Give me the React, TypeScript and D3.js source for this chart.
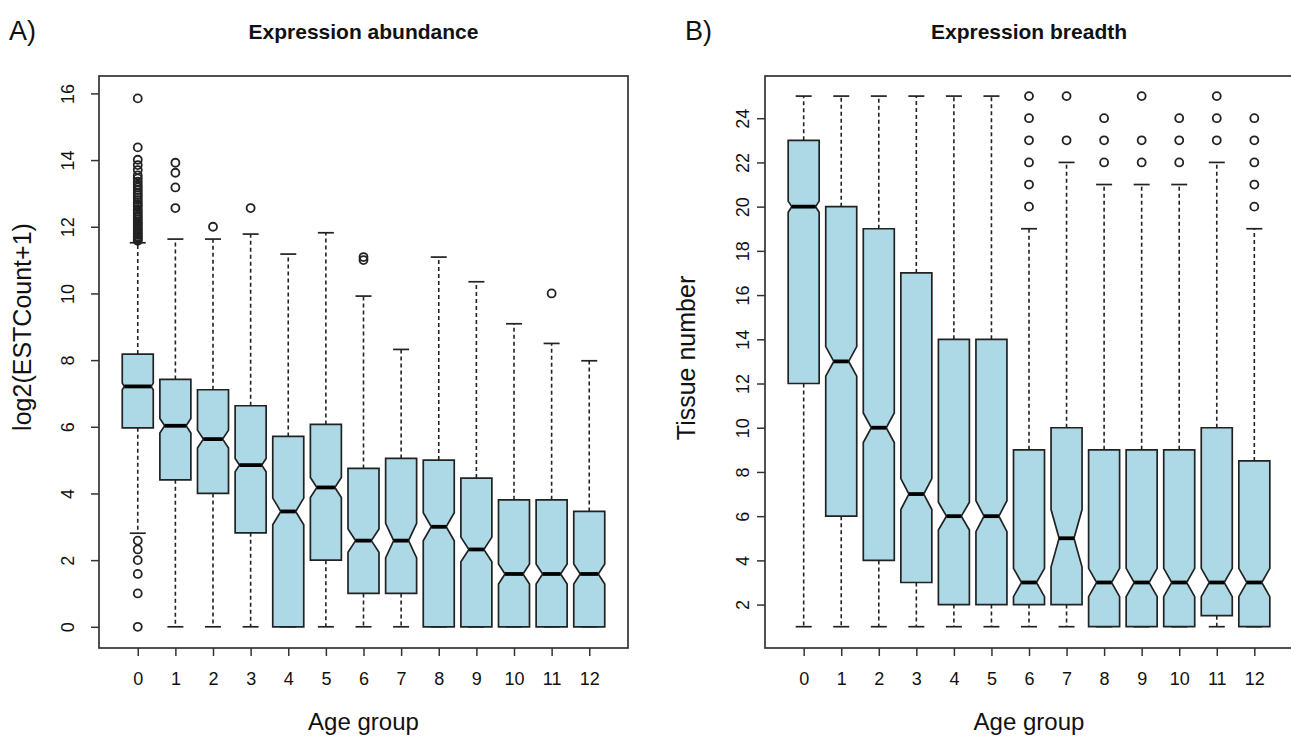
import React, { useEffect, useRef } from 'react'
import * as d3 from 'd3'

const ageGroups = ['0', '1', '2', '3', '4', '5', '6', '7', '8', '9', '10', '11', '12']

// A) expression abundance, log2(ESTCount+1)
const abundanceLower = [2.807, 0, 0, 0, 0, 0, 0, 0, 0, 0, 0, 0, 0]
const abundanceQ1 = [5.97, 4.41, 4.0, 2.82, 0, 2.0, 1.0, 1.0, 0, 0, 0, 0, 0]
const abundanceMedian = [7.21, 6.03, 5.63, 4.85, 3.46, 4.18, 2.585, 2.585, 3.0, 2.32, 1.585, 1.585, 1.585]
const abundanceQ3 = [8.18, 7.42, 7.11, 6.63, 5.71, 6.07, 4.75, 5.05, 5.0, 4.46, 3.81, 3.81, 3.46]
const abundanceUpper = [11.52, 11.63, 11.63, 11.78, 11.18, 11.82, 9.92, 8.32, 11.09, 10.35, 9.09, 8.5, 7.98]
const abundanceNotch = [0.1, 0.22, 0.27, 0.2, 0.4, 0.3, 0.35, 0.52, 0.42, 0.37, 0.3, 0.3, 0.3]
const abundanceOutliers = [
    [0, 1, 1.585, 2, 2.32, 2.585,
        11.58, 11.62, 11.67, 11.71, 11.76, 11.8, 11.86, 11.9, 11.95, 12.0, 12.06, 12.1, 12.15,
        12.22, 12.28, 12.33, 12.4, 12.46, 12.52, 12.6, 12.66, 12.73, 12.8, 12.88, 12.95, 13.02,
        13.1, 13.18, 13.26, 13.35, 13.45, 13.54, 13.7, 13.85, 14.01, 14.38, 15.85],
    [12.56, 13.18, 13.62, 13.92],
    [12.0],
    [12.56],
    [],
    [],
    [11.0, 11.09],
    [],
    [],
    [],
    [],
    [10.0],
    [],
]
const abundanceTicks = [0, 2, 4, 6, 8, 10, 12, 14, 16]

// B) expression breadth, tissue number
const breadthLower = [1, 1, 1, 1, 1, 1, 1, 1, 1, 1, 1, 1, 1]
const breadthQ1 = [12, 6, 4, 3, 2, 2, 2, 2, 1, 1, 1, 1.5, 1]
const breadthMedian = [20, 13, 10, 7, 6, 6, 3, 5, 3, 3, 3, 3, 3]
const breadthQ3 = [23, 20, 19, 17, 14, 14, 9, 10, 9, 9, 9, 10, 8.5]
const breadthUpper = [25, 25, 25, 25, 25, 25, 19, 22, 21, 21, 21, 22, 19]
const breadthNotch = [0.25, 0.67, 0.67, 0.7, 0.63, 0.7, 0.64, 1.3, 0.64, 0.64, 0.64, 0.64, 0.64]
const breadthOutliers = [
    [], [], [], [], [], [],
    [20, 21, 22, 23, 24, 25],
    [23, 25],
    [22, 23, 24],
    [22, 23, 25],
    [22, 23, 24],
    [23, 24, 25],
    [20, 21, 22, 23, 24],
]
const breadthTicks = [2, 4, 6, 8, 10, 12, 14, 16, 18, 20, 22, 24]

const FONT = '"Liberation Sans", Arial, Helvetica, sans-serif'
const INK = '#222'

function drawPanel(svg, p) {
    const x = d3.scalePoint().domain(ageGroups).range([p.left, p.right]).padding(1.03)
    const y = d3.scaleLinear().domain(p.yDomain).range(p.yRange)
    const halfW = 15.5
    const capW = 8
    const g = svg.append('g')

    ageGroups.forEach((k, i) => {
        const cx = x(k)
        const yQ1 = y(p.q1[i])
        const yQ3 = y(p.q3[i])
        const yMed = y(p.median[i])
        const yHi = y(p.median[i] + p.notch[i])
        const yLo = y(p.median[i] - p.notch[i])

        // whiskers
        ;[[yQ3, y(p.upper[i])], [yQ1, y(p.lower[i])]].forEach(([a, b]) => {
            g.append('line')
                .attr('x1', cx).attr('x2', cx).attr('y1', a).attr('y2', b)
                .attr('stroke', INK).attr('stroke-width', 1.6)
                .attr('stroke-dasharray', '4,3')
            g.append('line')
                .attr('x1', cx - capW).attr('x2', cx + capW).attr('y1', b).attr('y2', b)
                .attr('stroke', INK).attr('stroke-width', 1.7)
        })

        // notched box
        const inset = Math.min(0.26 * 2 * halfW, 0.65 * Math.abs(yLo - yMed))
        const pts = [
            [cx - halfW, yQ3], [cx + halfW, yQ3], [cx + halfW, yHi], [cx + halfW - inset, yMed],
            [cx + halfW, yLo], [cx + halfW, yQ1], [cx - halfW, yQ1], [cx - halfW, yLo],
            [cx - halfW + inset, yMed], [cx - halfW, yHi],
        ]
        g.append('path')
            .attr('d', d3.line()(pts) + 'Z')
            .attr('fill', '#add8e6')
            .attr('stroke', INK)
            .attr('stroke-width', 1.7)
            .attr('stroke-linejoin', 'miter')

        g.append('line')
            .attr('x1', cx - halfW + inset).attr('x2', cx + halfW - inset)
            .attr('y1', yMed).attr('y2', yMed)
            .attr('stroke', '#000').attr('stroke-width', 3.8)

        g.selectAll(null)
            .data(p.outliers[i])
            .enter().append('circle')
            .attr('cx', cx)
            .attr('cy', d => y(d))
            .attr('r', 4)
            .attr('fill', 'none')
            .attr('stroke', INK)
            .attr('stroke-width', 1.8)
    })

    // frame
    svg.append('rect')
        .attr('x', p.left).attr('y', p.top)
        .attr('width', p.right - p.left).attr('height', p.bottom - p.top)
        .attr('fill', 'none').attr('stroke', '#333').attr('stroke-width', 1.7)

    const yAxis = svg.append('g')
        .attr('transform', `translate(${p.left},0)`)
        .call(d3.axisLeft(y).tickValues(p.yTicks).tickSize(8).tickSizeOuter(0))
    yAxis.select('.domain').remove()
    yAxis.selectAll('line').attr('stroke', '#333').attr('stroke-width', 1.5)
    yAxis.selectAll('text')
        .attr('x', 0).attr('y', 0).attr('dy', 0)
        .attr('transform', `translate(${-p.yLabelGap},0) rotate(-90)`)
        .attr('text-anchor', 'middle')
        .attr('font-family', FONT).attr('font-size', 18).attr('fill', '#111')

    const xAxis = svg.append('g')
        .attr('transform', `translate(0,${p.bottom})`)
        .call(d3.axisBottom(x).tickSize(8).tickSizeOuter(0))
    xAxis.select('.domain').remove()
    xAxis.selectAll('line').attr('stroke', '#333').attr('stroke-width', 1.5)
    xAxis.selectAll('text')
        .attr('y', 37).attr('dy', 0)
        .attr('font-family', FONT).attr('font-size', 18).attr('fill', '#111')

    const mid = (p.left + p.right) / 2
    svg.append('text')
        .attr('x', p.titleX ?? mid).attr('y', 39)
        .attr('text-anchor', 'middle')
        .attr('font-family', FONT).attr('font-weight', 'bold').attr('font-size', 21)
        .attr('fill', '#111')
        .text(p.title)

    svg.append('text')
        .attr('x', p.titleX ?? mid).attr('y', 730)
        .attr('text-anchor', 'middle')
        .attr('font-family', FONT).attr('font-size', 24).attr('fill', '#111')
        .text('Age group')

    svg.append('text')
        .attr('transform', `translate(${p.ylabX},${p.ylabY}) rotate(-90)`)
        .attr('text-anchor', 'middle')
        .attr('font-family', FONT).attr('font-size', 25).attr('fill', '#111')
        .text(p.ylab)

    svg.append('text')
        .attr('x', p.letterX).attr('y', 40)
        .attr('font-family', FONT).attr('font-size', 27).attr('fill', '#111')
        .text(p.letter)
}

export default function App() {
    const ref = useRef(null)

    useEffect(() => {
        const svg = d3.select(ref.current)
        svg.selectAll('*').remove()
        svg.append('rect').attr('width', 1291).attr('height', 737).attr('fill', '#fff')

        drawPanel(svg, {
            left: 99, right: 628, top: 76, bottom: 648,
            yDomain: [0, 16], yRange: [626.8, 93.4], yTicks: abundanceTicks, yLabelGap: 25,
            lower: abundanceLower, q1: abundanceQ1, median: abundanceMedian, q3: abundanceQ3,
            upper: abundanceUpper, notch: abundanceNotch, outliers: abundanceOutliers,
            title: 'Expression abundance', ylab: 'log2(ESTCount+1)', ylabX: 31, ylabY: 327,
            letter: 'A)', letterX: 9,
        })

        drawPanel(svg, {
            left: 765, right: 1293, top: 76, bottom: 648, titleX: 1029,
            yDomain: [1, 25], yRange: [626.7, 96.1], yTicks: breadthTicks, yLabelGap: 16,
            lower: breadthLower, q1: breadthQ1, median: breadthMedian, q3: breadthQ3,
            upper: breadthUpper, notch: breadthNotch, outliers: breadthOutliers,
            title: 'Expression breadth', ylab: 'Tissue number', ylabX: 695, ylabY: 358,
            letter: 'B)', letterX: 685,
        })
    }, [])

    return (
        <svg ref={ref} width={1291} height={737}
            style={{ position: 'absolute', left: 0, top: 0, display: 'block' }} />
    )
}
